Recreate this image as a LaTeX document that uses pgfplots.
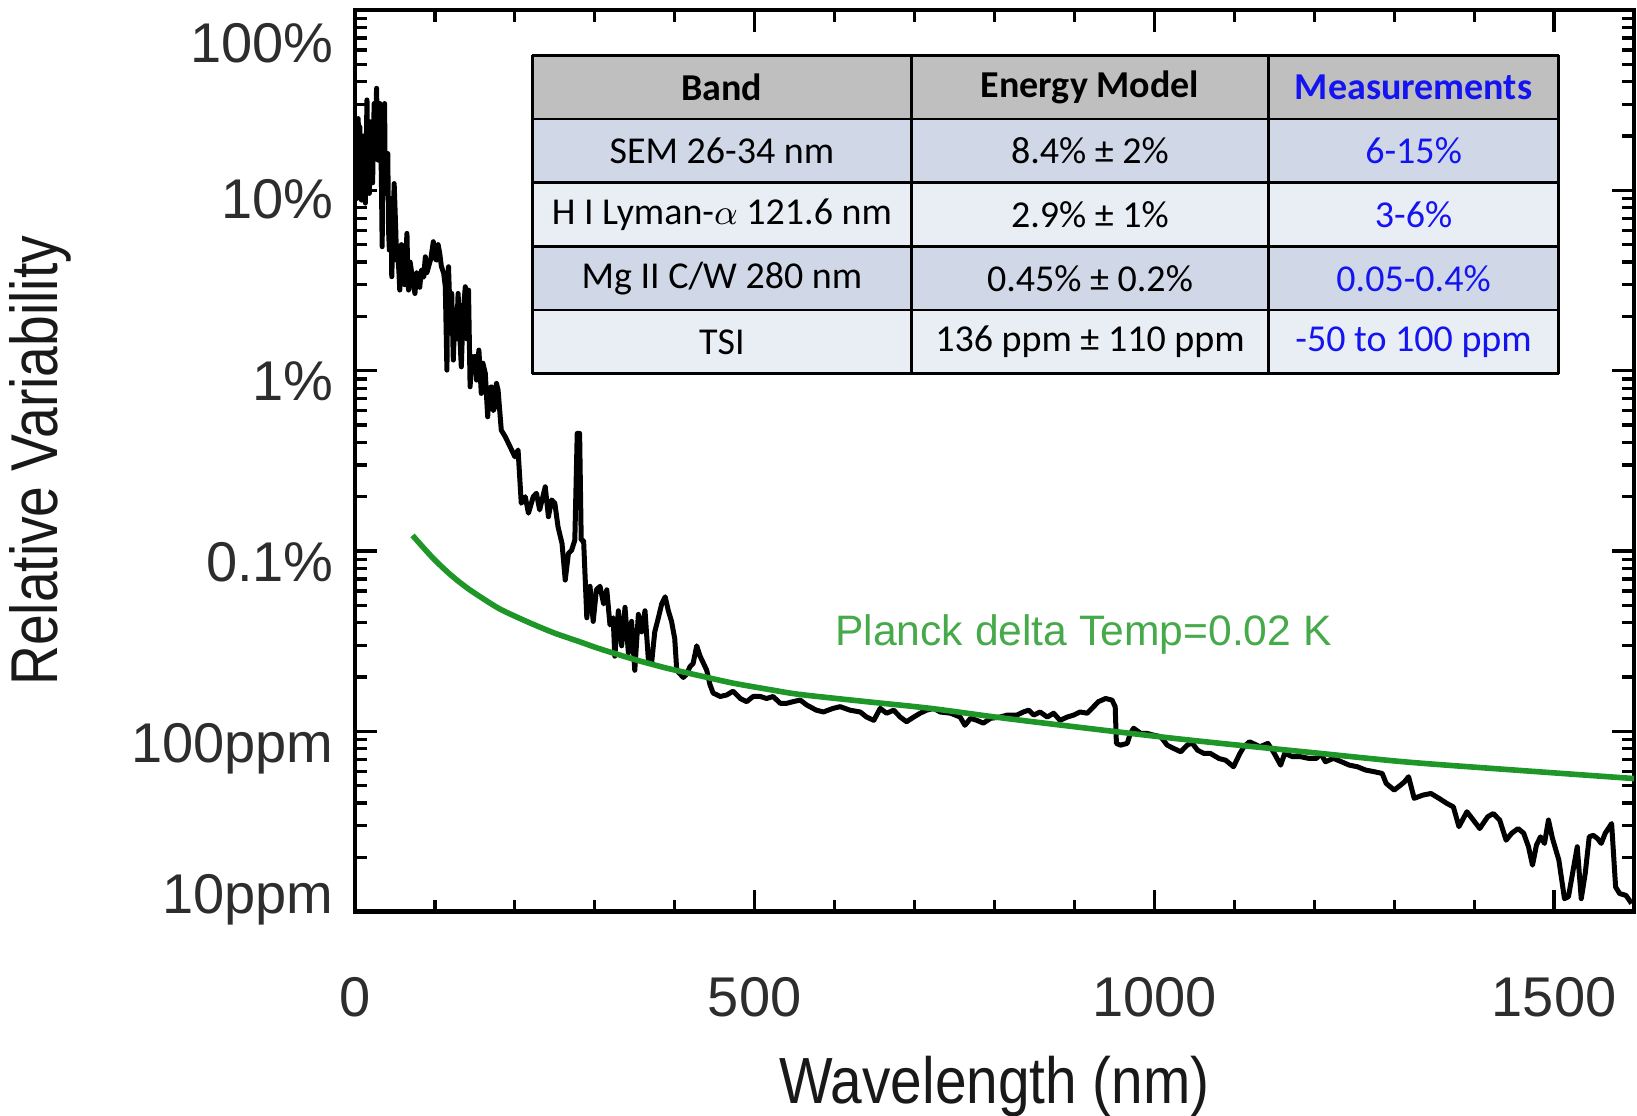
\documentclass[border=0pt]{standalone}
\usepackage{fontspec}
\setmainfont{Liberation Sans}
\newfontfamily\carlito{Carlito}
\usepackage{graphicx}
\usepackage{xcolor}
\usepackage{tikz}
\usepackage{pgfplots}
\pgfplotsset{compat=1.18}
\definecolor{planckline}{RGB}{30,150,40}
\definecolor{plancktext}{RGB}{70,170,75}
\definecolor{tickgray}{RGB}{45,45,45}
\definecolor{hdrgray}{RGB}{191,191,191}
\definecolor{rowdark}{RGB}{208,216,232}
\definecolor{rowlight}{RGB}{233,237,244}
\definecolor{measblue}{RGB}{20,20,240}

\begin{document}
\begin{tikzpicture}
\begin{axis}[
scale only axis,width=319.75pt,height=225.4pt,
xmin=0,xmax=1600,ymode=log,ymin=1e-5,ymax=1,
axis line style={line width=1.2pt},
tick style={line width=0.8pt,black},tick align=inside,
major tick length=5.5pt,minor tick length=3pt,
xtick={0,500,1000,1500},minor x tick num=4,
ytick={1e-5,1e-4,1e-3,1e-2,1e-1,1},
minor ytick={2e-5,3e-5,4e-5,5e-5,6e-5,7e-5,8e-5,9e-5,2e-4,3e-4,4e-4,5e-4,6e-4,7e-4,8e-4,9e-4,2e-3,3e-3,4e-3,5e-3,6e-3,7e-3,8e-3,9e-3,2e-2,3e-2,4e-2,5e-2,6e-2,7e-2,8e-2,9e-2,0.2,0.3,0.4,0.5,0.6,0.7,0.8,0.9},
yticklabels={\raisebox{-0.4pt}[0pt][0pt]{10ppm},\raisebox{-7.75pt}[0pt][0pt]{100ppm},\raisebox{-7.75pt}[0pt][0pt]{0.1\%},\raisebox{-7.5pt}[0pt][0pt]{1\%},\raisebox{-7pt}[0pt][0pt]{10\%},\raisebox{-13pt}[0pt][0pt]{100\%}},
/pgf/number format/assume math mode=true,
/pgf/number format/1000 sep={},
tick label style={font=\fontsize{14}{16}\selectfont,text=tickgray},
xticklabel style={yshift=-12.8pt},
yticklabel style={xshift=-1.8pt},
xlabel={\scalebox{1}[1.15]{Wavelength (nm)}},
ylabel={\scalebox{1}[1.2]{Relative Variability}},
every axis x label/.style={at={(axis description cs:0.5,-0.1936)},anchor=center,font=\fontsize{14.2}{16}\selectfont,text=black!90},
every axis y label/.style={at={(axis description cs:-0.2463,0.5)},rotate=90,anchor=center,font=\fontsize{13.8}{16}\selectfont,text=black!90},
]
% measured spectrum
\addplot[black,line width=1.25pt,line join=round] coordinates {
(0,0.105)(1,0.182)(2,0.09)(3,0.105)(4,0.25)(5,0.12)(6,0.225)(7,0.095)(8,0.0883)(10,0.2)(12,0.1295)(13,0.085)(15,0.317)(16,0.13)(18,0.0962)(19,0.24)(21,0.225)(22,0.11)(24,0.303)(25,0.16)(27,0.368)(28,0.2)(29,0.147)(30,0.28)(31,0.303)(33,0.12)(34,0.0487)(35,0.2)(37,0.303)(38,0.0962)(40,0.13)(41,0.160)(42,0.06)(43,0.0466)(45,0.09)(46,0.0332)(48,0.07)(49,0.109)(51,0.06)(52,0.0410)(53,0.0487)(55,0.035)(56,0.0280)(58,0.05)(60,0.0377)(62,0.03)(65,0.0577)(66,0.035)(67,0.0280)(69,0.04)(71,0.0346)(73,0.03)(75,0.0268)(77,0.035)(79,0.0332)(81,0.029)(83,0.0361)(86,0.033)(88,0.0428)(90,0.035)(92,0.0377)(95,0.042)(98,0.0519)(100,0.042)(102,0.0410)(104,0.05)(106,0.0447)(108,0.038)(111,0.0346)(113,0.0292)(115,0.01007)(116,0.03)(117,0.0377)(119,0.02)(121,0.0268)(123,0.01145)(125,0.0217)(127,0.015)(129,0.0268)(131,0.016)(133,0.0105)(135,0.02)(138,0.0292)(140,0.015)(142,0.0280)(144,0.00814)(146,0.012)(148,0.0105)(150,0.012)(152,0.00887)(155,0.0130)(158,0.00748)(160,0.011)(163,0.00966)(166,0.00555)(168,0.008)(171,0.00814)(173,0.006)(175,0.00631)(177,0.0085)(179,0.00780)(183,0.00468)(188,0.00430)(192,0.00395)(196,0.00363)(200,0.00333)(204,0.00363)(208,0.00184)(213,0.00200)(217,0.00162)(223,0.00200)(227,0.00209)(231,0.00169)(238,0.00227)(242,0.00155)(246,0.00192)(250,0.00184)(254,0.00136)(259,0.00110)(263,0.000690)(267,0.000969)(271,0.00101)(275,0.00115)(278,0.00449)(281,0.00449)(283,0.00115)
(286,0.00114)(290,4.26e-4)(294,6.37e-4)(298,4.07e-4)(302,6.09e-4)(306.5,6.37e-4)(311,5.09e-4)(315,6.09e-4)(319,3.89e-4)(323,4.26e-4)(325,2.61e-4)(329.5,4.66e-4)(333.6,2.98e-4)(337.8,4.87e-4)(342,2.72e-4)(346,4.07e-4)(350,2.18e-4)(354.5,4.45e-4)(358.6,3.56e-4)(362.8,4.66e-4)(367,2.49e-4)(371,2.38e-4)(375,3.56e-4)(379.5,4.26e-4)(383.7,5.09e-4)(388,5.57e-4)(392,4.66e-4)(396,4.07e-4)(400,3.26e-4)(402.5,2.18e-4)(406.6,2.08e-4)(410.8,1.99e-4)(415,2.08e-4)(419,2.28e-4)(423,2.38e-4)(427.5,2.98e-4)(431.7,2.61e-4)(436,2.38e-4)(440,2.18e-4)(444,1.82e-4)(448,1.63e-4)(457,1.56e-4)(465,1.59e-4)(473,1.67e-4)(482,1.52e-4)(490,1.46e-4)(498,1.56e-4)(507,1.56e-4)(515,1.52e-4)(523,1.56e-4)(532,1.43e-4)(540,1.43e-4)(548,1.46e-4)(557,1.49e-4)
(565,1.40e-4)(577,1.31e-4)(586,1.28e-4)(598,1.34e-4)(607,1.37e-4)(619,1.31e-4)(632,1.28e-4)(640,1.20e-4)(649,1.15e-4)(657,1.34e-4)(665,1.26e-4)(674,1.31e-4)(682,1.20e-4)(690,1.13e-4)(699,1.20e-4)(707,1.26e-4)(715,1.31e-4)(724,1.34e-4)(732,1.28e-4)(745,1.26e-4)(757,1.20e-4)(763,1.08e-4)(770,1.18e-4)(778,1.15e-4)(786,1.11e-4)(795,1.18e-4)(807,1.20e-4)(816,1.23e-4)(828,1.23e-4)(836,1.28e-4)(843,1.31e-4)(849,1.23e-4)(857,1.28e-4)(866,1.20e-4)(874,1.26e-4)(882,1.15e-4)(891,1.20e-4)(899,1.23e-4)(907,1.28e-4)(916,1.26e-4)(924,1.37e-4)(930,1.46e-4)(939,1.52e-4)(947,1.49e-4)(951,1.37e-4)(952.5,8.57e-5)(957.5,8.38e-5)(966,8.57e-5)(970,9.73e-5)(974,1.04e-4)(983,9.73e-5)(991,9.73e-5)(999,9.52e-5)(1008,9.33e-5)(1016,8.38e-5)(1024,8.04e-5)(1033,7.70e-5)(1041,8.38e-5)(1047,8.63e-5)(1054,7.86e-5)(1062,7.54e-5)(1070,7.54e-5)(1081,7.06e-5)
(1089,6.92e-5)(1099,6.36e-5)(1107,7.54e-5)(1112,8.21e-5)(1119,8.75e-5)(1132,8.21e-5)(1142,8.57e-5)(1150,7.54e-5)(1158,6.49e-5)(1163,7.54e-5)(1173,7.23e-5)(1183,7.23e-5)(1193,7.08e-5)(1203,7.08e-5)(1208,7.54e-5)(1214,6.78e-5)(1224,7.08e-5)(1234,6.78e-5)(1244,6.49e-5)(1254,6.36e-5)(1264,6.10e-5)(1275,5.97e-5)(1285,5.84e-5)(1290,5.14e-5)(1300,4.72e-5)(1308,5.03e-5)(1313,5.25e-5)(1318,5.60e-5)(1325,4.25e-5)(1336,4.43e-5)(1346,4.52e-5)(1356,4.25e-5)(1366,3.98e-5)(1374,3.81e-5)(1381,2.96e-5)(1391,3.58e-5)(1399,3.22e-5)(1407,2.89e-5)(1417,3.36e-5)(1424,3.50e-5)(1432,3.22e-5)(1440,2.49e-5)(1447,2.72e-5)(1455,2.89e-5)(1462,2.72e-5)(1468,2.29e-5)(1473,1.81e-5)(1478,2.34e-5)(1483,2.60e-5)(1488,2.39e-5)(1493,3.22e-5)(1498,2.55e-5)(1506,1.93e-5)(1513,1.18e-5)(1518,1.21e-5)(1529,2.29e-5)(1534,1.18e-5)(1539,1.63e-5)(1544,2.60e-5)(1549,2.65e-5)(1554,2.55e-5)(1559,2.39e-5)(1564,2.72e-5)(1572,3.08e-5)(1577,1.37e-5)(1582,1.26e-5)(1590,1.23e-5)(1597,1.11e-5)
};
% Planck curve, dT = 0.02 K
\addplot[planckline,line width=1.4pt,smooth] coordinates {
(72,1.22e-3)(85,1.05e-3)(100,8.9e-4)(120,7.35e-4)(140,6.25e-4)(160,5.45e-4)(180,4.8e-4)(200,4.35e-4)(223,3.92e-4)(250,3.5e-4)(280,3.15e-4)(306,2.87e-4)(350,2.5e-4)(390,2.24e-4)(432,2.03e-4)(473,1.85e-4)(520,1.70e-4)(557,1.60e-4)(640,1.46e-4)(720,1.34e-4)(807,1.19e-4)(900,1.06e-4)(1000,9.4e-5)(1080,8.6e-5)(1200,7.6e-5)(1315,6.76e-5)(1450,6.10e-5)(1600,5.47e-5)
};
\node[anchor=west,text=plancktext,font=\fontsize{10.65}{12}\selectfont,inner sep=0pt] at (axis cs:600,3.45e-4) {Planck delta Temp=0.02 K};
\coordinate (bl) at (rel axis cs:0,0);
\coordinate (tr) at (rel axis cs:1,1);
\coordinate (T) at (rel axis cs:0.1387,0.9498);
\end{axis}
% table of bands
\begin{scope}[shift={(T)},font=\carlito\fontsize{9.5}{11}\selectfont]
\def\rh{15.925pt}
\fill[hdrgray] (0,0) rectangle (256.58pt,-\rh);
\fill[rowdark] (0,-\rh) rectangle (256.58pt,-2*\rh);
\fill[rowlight] (0,-2*\rh) rectangle (256.58pt,-3*\rh);
\fill[rowdark] (0,-3*\rh) rectangle (256.58pt,-4*\rh);
\fill[rowlight] (0,-4*\rh) rectangle (256.58pt,-5*\rh);
\foreach \i in {0,1,2,3,4,5} \draw[line width=0.7pt] (0,-\i*\rh) -- (256.58pt,-\i*\rh);
\foreach \x in {0pt,94.75pt,184.03pt,256.58pt} \draw[line width=0.7pt] (\x,0) -- (\x,-5*\rh);
\node at (47.375pt,-0.5*\rh) {\bfseries Band};
\node at (139.39pt,-0.5*\rh) {\bfseries Energy Model};
\node[text=measblue] at (220.3pt,-0.5*\rh) {\bfseries Measurements};
\node at (47.375pt,-1.5*\rh) {SEM 26-34 nm};
\node at (139.39pt,-1.5*\rh) {8.4\% ± 2\%};
\node[text=measblue] at (220.3pt,-1.5*\rh) {6-15\%};
\node at (47.375pt,-2.5*\rh) {H I Lyman-$\alpha$ 121.6 nm};
\node at (139.39pt,-2.5*\rh) {2.9\% ± 1\%};
\node[text=measblue] at (220.3pt,-2.5*\rh) {3-6\%};
\node at (47.375pt,-3.5*\rh) {Mg II C/W 280 nm};
\node at (139.39pt,-3.5*\rh) {0.45\% ± 0.2\%};
\node[text=measblue] at (220.3pt,-3.5*\rh) {0.05-0.4\%};
\node at (47.375pt,-4.5*\rh) {TSI};
\node at (139.39pt,-4.5*\rh) {136 ppm ± 110 ppm};
\node[text=measblue] at (220.3pt,-4.5*\rh) {-50 to 100 ppm};
\end{scope}
\pgfresetboundingbox
\path[use as bounding box] (bl) ++(-88.75pt,-50.9pt) rectangle ([shift={(0.75pt,2.5pt)}]tr);
\end{tikzpicture}
\end{document}
